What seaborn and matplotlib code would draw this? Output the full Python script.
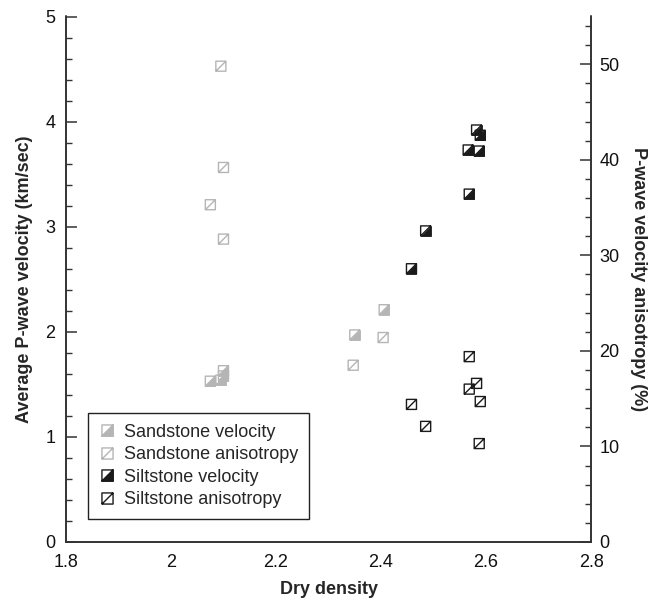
import numpy as np
import pandas as pd
import matplotlib
matplotlib.use("Agg")
import matplotlib.pyplot as plt
import seaborn as sns
from matplotlib.path import Path
from matplotlib.lines import Line2D
from matplotlib.ticker import MultipleLocator, FuncFormatter

# ---- data ----
sand_vel_x = [2.075, 2.095, 2.100, 2.100, 2.350, 2.406]
sand_vel_y = [1.53, 1.54, 1.58, 1.63, 1.97, 2.21]
sand_ani_x = [2.095, 2.100, 2.075, 2.100, 2.347, 2.404]
sand_ani_y = [49.8, 39.2, 35.3, 31.7, 18.5, 21.4]
silt_vel_x = [2.458, 2.485, 2.568, 2.566, 2.587, 2.582, 2.589]
silt_vel_y = [2.60, 2.96, 3.31, 3.73, 3.72, 3.92, 3.87]
silt_ani_x = [2.458, 2.485, 2.568, 2.568, 2.582, 2.589, 2.587]
silt_ani_y = [14.4, 12.1, 19.4, 16.0, 16.6, 14.7, 10.3]
labels = ["Sandstone velocity", "Sandstone anisotropy",
          "Siltstone velocity", "Siltstone anisotropy"]

GRAY = "#b5b5b5"
BLACK = "#1a1a1a"

sns.set_style("white")
plt.rcParams["font.family"] = ["Liberation Sans", "DejaVu Sans"]

# custom markers: square with diagonal, lower-right triangle fill
sq = Path([(-1, -1), (1, -1), (1, 1), (-1, 1), (-1, -1), (-1, -1), (1, 1)],
          [Path.MOVETO, Path.LINETO, Path.LINETO, Path.LINETO, Path.CLOSEPOLY,
           Path.MOVETO, Path.LINETO])
tri = Path([(-1, -1), (1, -1), (1, 1), (-1, -1)],
           [Path.MOVETO, Path.LINETO, Path.LINETO, Path.CLOSEPOLY])

fig = plt.figure(figsize=(6.66, 6.0), dpi=100)
ax = fig.add_axes([0.099, 0.0967, 0.7885, 0.8758])
ax2 = ax.twinx()

S = 52

def half_filled(axis, x, y, color):
    sns.scatterplot(x=x, y=y, ax=axis, marker=tri, s=S, color=color,
                    edgecolor=color, linewidth=0.5, zorder=3)
    sns.scatterplot(x=x, y=y, ax=axis, marker=sq, s=S, color=color,
                    facecolor="none", edgecolor=color, linewidth=1.0, zorder=3)

def open_sq(axis, x, y, color):
    sns.scatterplot(x=x, y=y, ax=axis, marker=sq, s=S, color=color,
                    facecolor="none", edgecolor=color, linewidth=1.0, zorder=3)

half_filled(ax, sand_vel_x, sand_vel_y, GRAY)
half_filled(ax, silt_vel_x, silt_vel_y, BLACK)
open_sq(ax2, sand_ani_x, sand_ani_y, GRAY)
open_sq(ax2, silt_ani_x, silt_ani_y, BLACK)

ax.set_xlim(1.8, 2.8)
ax.set_ylim(0, 5)
ax2.set_ylim(0, 55)

fmt = FuncFormatter(lambda v, p: "%g" % round(v, 3))
ax.xaxis.set_major_locator(MultipleLocator(0.2))
ax.xaxis.set_minor_locator(MultipleLocator(0.05))
ax.xaxis.set_major_formatter(fmt)
ax.yaxis.set_major_locator(MultipleLocator(1))
ax.yaxis.set_minor_locator(MultipleLocator(0.2))
ax.yaxis.set_major_formatter(fmt)
ax2.yaxis.set_major_locator(MultipleLocator(10))
ax2.yaxis.set_minor_locator(MultipleLocator(2))

spine_c = "#333333"
for a in (ax, ax2):
    a.spines["top"].set_visible(False)
    for side in ("left", "bottom", "right"):
        a.spines[side].set_color(spine_c)
        a.spines[side].set_linewidth(1.2)
    a.tick_params(which="major", direction="in", length=8, width=1.1,
                  color=spine_c, labelsize=13, labelcolor="#111111")
    a.tick_params(which="minor", direction="in", length=4.5, width=1.0,
                  color=spine_c)
ax.tick_params(axis="y", which="both", right=False, pad=7.5)
ax.tick_params(axis="x", which="both", top=False, pad=9)
ax2.tick_params(axis="y", which="both", left=False, right=True, pad=6)

ax.set_xlabel("Dry density", fontsize=13, fontweight="bold", labelpad=7)
ax.set_ylabel("Average P-wave velocity (km/sec)", fontsize=13,
              fontweight="bold", labelpad=9)
ax2.set_ylabel("P-wave velocity anisotropy (%)", fontsize=13,
               fontweight="bold", rotation=270, labelpad=20)

def handle(color, filled):
    outline = Line2D([], [], marker=sq, linestyle="none", markersize=8,
                     markerfacecolor="none", markeredgecolor=color,
                     markeredgewidth=1.0)
    if filled:
        fill = Line2D([], [], marker=tri, linestyle="none", markersize=8,
                      markerfacecolor=color, markeredgecolor=color,
                      markeredgewidth=0.5)
        return (fill, outline)
    return (outline,)

handles = [handle(GRAY, True), handle(GRAY, False),
           handle(BLACK, True), handle(BLACK, False)]
leg = ax.legend(handles, labels, loc="lower left",
                bbox_to_anchor=(0.042, 0.044), borderaxespad=0,
                fontsize=13, frameon=True, fancybox=False, framealpha=1,
                edgecolor="#222222", handlelength=0.9, handletextpad=0.5,
                labelspacing=0.3, borderpad=0.6)
leg.get_frame().set_linewidth(1.0)
leg.set_zorder(5)

fig.savefig("out.png", dpi=100)
